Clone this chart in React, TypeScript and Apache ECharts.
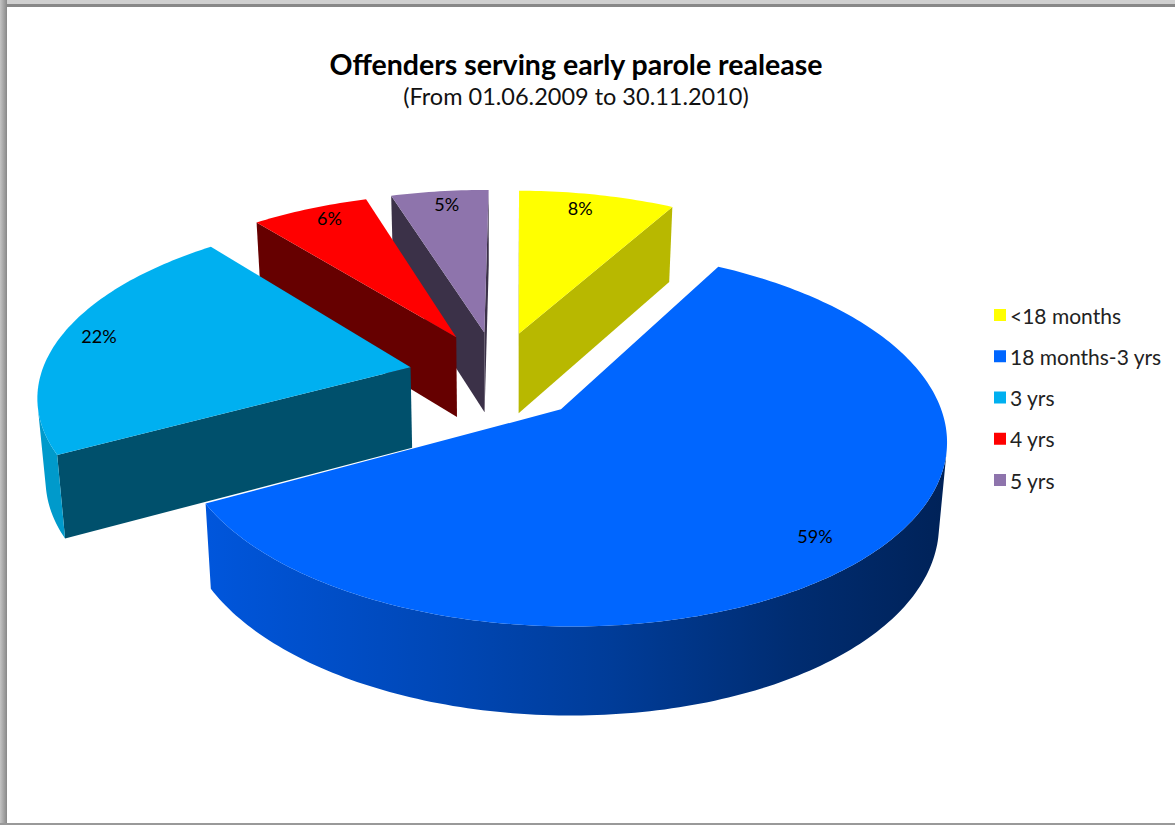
import React, { useEffect, useRef } from "react";
import * as echarts from "echarts";

const categories = ["<18 months", "18 months-3 yrs", "3 yrs", "4 yrs", "5 yrs"];
const shares = [8, 59, 22, 6, 5];
const titleText = "Offenders serving early parole realease";
const subtitleText = "(From 01.06.2009 to 30.11.2010)";

const topColors = ["#ffff00", "#0066ff", "#00b0f0", "#ff0000", "#8e74ac"];
const sideColors = ["#b8b800", "#00506c", "#00506c", "#660000", "#3b3148"];
const rimColors: any[] = [
  "#b8b800",
  {
    type: "linear", x: 0, y: 0, x2: 1, y2: 0,
    colorStops: [
      { offset: 0, color: "#0056dc" },
      { offset: 0.3, color: "#0048b8" },
      { offset: 0.55, color: "#003c98" },
      { offset: 0.8, color: "#002c70" },
      { offset: 1, color: "#002258" },
    ],
  },
  "#009acb",
  "#660000",
  "#3b3148",
];
const labelReach = [0.9, 0.8, 0.89, 0.85, 0.97];
const labelNudge = [[-10, 1], [15, 11], [-1, -2], [0, -8], [6, 9]];
const paintOrder = [4, 3, 0, 2, 1];

// Tilted-disc projection: a point on the pie plane in units of the radius.
const CX = 497, CY = 376, RX = 370, RY = 175, PERSPECTIVE = 0.145, DEPTH = 81;
const EXPLODE_X = 0.24, EXPLODE_Y = 0.26, TAPER = 0.018, ROTATION = (0.5 * Math.PI) / 180;

const project = (u: number, v: number, down: number): [number, number] => {
  const s = 1 / (1 + PERSPECTIVE * v);
  return [
    CX + RX * u * s * (1 - TAPER * down),
    CY - RY * v * s + DEPTH * Math.sqrt(s) * down,
  ];
};

const total = shares.reduce((a, b) => a + b, 0);
const sliceAngles = (i: number): [number, number] => {
  const before = shares.slice(0, i).reduce((a, b) => a + b, 0);
  return [
    ROTATION + (before / total) * Math.PI * 2,
    ROTATION + ((before + shares[i]) / total) * Math.PI * 2,
  ];
};

const wallFaces = (p: number[], q: number[], pb: number[]) =>
  (q[0] - p[0]) * (pb[1] - p[1]) - (q[1] - p[1]) * (pb[0] - p[0]) < 0;

const renderSlice = (i: number) => (_params: any, api: any) => {
  const [a0, a1] = sliceAngles(i);
  const mid = (a0 + a1) / 2;
  const ou = EXPLODE_X * Math.sin(mid);
  const ov = EXPLODE_Y * Math.cos(mid);
  const steps = Math.max(8, Math.round(((a1 - a0) * 180) / Math.PI));
  const rimAngles = Array.from({ length: steps + 1 }, (_, k) => a0 + ((a1 - a0) * k) / steps);
  const at = (t: number, down: number) => project(ou + Math.sin(t), ov + Math.cos(t), down);
  const apex = project(ou, ov, 0);
  const apexLow = project(ou, ov, 1);
  const children: any[] = [];

  const quad = (p: number[], q: number[], pb: number[], qb: number[]) => {
    if (wallFaces(p, q, pb)) {
      children.push({
        type: "polygon",
        shape: { points: [p, q, qb, pb] },
        style: { fill: sideColors[i] },
      });
    }
  };
  quad(apex, at(a0, 0), apexLow, at(a0, 1));
  quad(at(a1, 0), apex, at(a1, 1), apexLow);

  // Outer rim: only the run of segments that faces the viewer.
  let upper: number[][] = [];
  let lower: number[][] = [];
  const flush = () => {
    if (upper.length > 1) {
      children.push({
        type: "polygon",
        shape: { points: [...upper, ...lower.reverse()] },
        style: { fill: rimColors[i] },
      });
    }
    upper = [];
    lower = [];
  };
  for (let k = 0; k < steps; k++) {
    const p = at(rimAngles[k], 0);
    const q = at(rimAngles[k + 1], 0);
    const pb = at(rimAngles[k], 1);
    const qb = at(rimAngles[k + 1], 1);
    if (wallFaces(p, q, pb)) {
      if (!upper.length) {
        upper.push(p);
        lower.push(pb);
      }
      upper.push(q);
      lower.push(qb);
    } else {
      flush();
    }
  }
  flush();

  children.push({
    type: "polygon",
    shape: { points: [apex, ...rimAngles.map((t) => at(t, 0))] },
    style: { fill: topColors[i] },
  });

  const reach = labelReach[i];
  const [lx, ly] = project(ou + reach * Math.sin(mid), ov + reach * Math.cos(mid), 0);
  children.push({
    type: "text",
    x: lx + labelNudge[i][0],
    y: ly + labelNudge[i][1],
    style: {
      text: `${api.value(0)}%`,
      fontFamily: "Lato",
      fontSize: 18,
      fill: "#000",
      align: "center",
      verticalAlign: "middle",
    },
  });
  return { type: "group", children };
};

export default function App() {
  const ref = useRef<HTMLDivElement>(null);
  useEffect(() => {
    const chart = echarts.init(ref.current!, undefined, { renderer: "svg" });
    chart.setOption({
      animation: false,
      backgroundColor: "#ffffff",
      title: {
        text: titleText,
        subtext: subtitleText,
        left: 571,
        top: 44,
        textAlign: "center",
        itemGap: 6,
        textStyle: { fontFamily: "Lato", fontSize: 28.5, fontWeight: "bold", color: "#000" },
        subtextStyle: { fontFamily: "Lato", fontSize: 23.5, color: "#111" },
      },
      legend: {
        orient: "vertical",
        left: 989,
        top: 298,
        itemWidth: 12,
        itemHeight: 12,
        itemGap: 17.25,
        icon: "rect",
        selectedMode: false,
        data: categories,
        textStyle: { fontFamily: "Lato", fontSize: 21, lineHeight: 24, color: "#222", padding: [0, 0, 0, -1] },
      },
      graphic: [
        { type: "rect", shape: { x: 0, y: 0, width: 1175, height: 4 }, style: { fill: "#d0d0d0" } },
        { type: "rect", shape: { x: 0, y: 4, width: 1175, height: 3 }, style: { fill: "#888888" } },
        {
          type: "rect",
          shape: { x: 0, y: 0, width: 7, height: 825 },
          style: {
            fill: {
              type: "linear", x: 0, y: 0, x2: 1, y2: 0,
              colorStops: [
                { offset: 0, color: "#c4c4c4" },
                { offset: 1, color: "#888888" },
              ],
            },
          },
        },
        { type: "rect", shape: { x: 0, y: 823, width: 1175, height: 2 }, style: { fill: "#999999" } },
      ],
      series: paintOrder.map((i) => ({
        type: "custom",
        name: categories[i],
        coordinateSystem: "none",
        silent: true,
        itemStyle: { color: topColors[i] },
        data: [[shares[i]]],
        renderItem: renderSlice(i),
      })),
    });
    return () => chart.dispose();
  }, []);
  return <div ref={ref} style={{ position: "fixed", left: 0, top: 0, width: 1175, height: 825 }} />;
}
